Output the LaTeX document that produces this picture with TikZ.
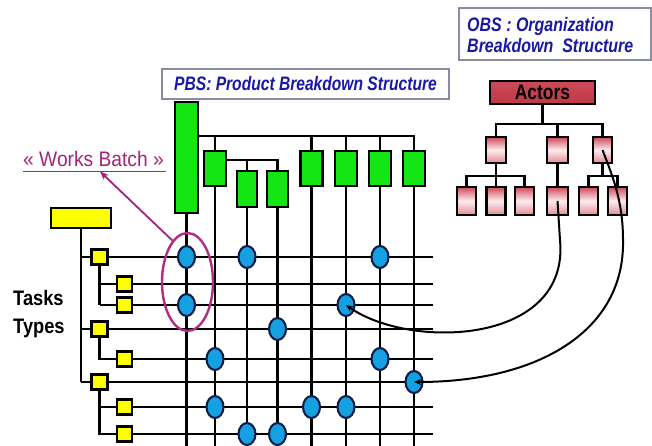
\documentclass[tikz,border=0pt]{standalone}
\usepackage{fontspec}
\setmainfont{Liberation Sans}
\usepackage{graphicx}
\usetikzlibrary{shapes.geometric,arrows.meta,calc}

\definecolor{gfill}{RGB}{20,230,20}
\definecolor{yfill}{RGB}{255,255,0}
\definecolor{bfill}{RGB}{20,160,225}
\definecolor{bline}{RGB}{15,30,70}
\definecolor{mag}{RGB}{165,35,120}
\definecolor{mage}{RGB}{178,45,130}
\definecolor{tblue}{RGB}{25,25,165}
\definecolor{gbord}{RGB}{140,140,160}
\definecolor{pktop}{RGB}{205,75,90}
\definecolor{pkmid}{RGB}{253,236,238}
\definecolor{pkbot}{RGB}{225,140,150}
\definecolor{actbot}{RGB}{190,55,70}

\newcommand{\hsq}[2]{\scalebox{#1}[1]{#2}}

\begin{document}
\begin{tikzpicture}[x=1pt,y=-1pt,
  gridl/.style={line width=2.5pt},
  gbox/.style={draw, line width=2.3pt, fill=gfill, inner sep=0pt, minimum width=22pt, minimum height=35pt},
  ybox/.style={draw, line width=2.1pt, fill=yfill, inner sep=0pt, minimum width=15pt, minimum height=15pt},
  dot/.style={ellipse, draw=bline, line width=2.1pt, fill=bfill, inner sep=0pt, minimum width=17pt, minimum height=22pt},
  pbox/.style={draw, line width=2.1pt, top color=pktop, bottom color=pkbot, middle color=pkmid, inner sep=0pt, minimum width=19pt, minimum height=28pt},
  titlebox/.style={draw=gbord, line width=1.3pt, fill=white, inner sep=0pt},
  titletext/.style={inner sep=0pt, anchor=base west, text=tblue, font=\fontsize{19.5}{21}\selectfont\bfseries\itshape},
  link/.style={line width=2pt, -{Stealth[length=7pt,width=6pt]}},
]
\useasboundingbox (0,0) rectangle (652,446);

% helper coordinates
\coordinate (rx) at (433,0);
\coordinate (by) at (0,446);
\coordinate (h1) at (0,136);
\coordinate (h2) at (0,160);
\coordinate (h3) at (0,124);
\coordinate (h4) at (0,176);

% PBS title
\node[titlebox, minimum width=287pt, minimum height=30pt, text=tblue,
      font=\fontsize{19.5}{21}\selectfont\bfseries\itshape] (pbs) at (305.5,84)
      {\hsq{0.80}{PBS: Product Breakdown Structure}};

% OBS title
\node[titlebox, minimum width=192pt, minimum height=52pt] (obs) at (555,34) {};
\node[titletext] (obs1) at (467,32) {\hsq{0.82}{OBS : Organization}};
\node[titletext] (obs2) at (467,53) {\hsq{0.82}{Breakdown\ \ Structure}};

% green product boxes
\node[gbox, minimum width=23pt, minimum height=111pt] (gB) at (186.5,157.5) {};
\node[gbox] (g1) at (215,168.5) {};
\node[gbox, minimum width=20pt, minimum height=36pt] (g2) at (247,189) {};
\node[gbox, minimum width=21pt, minimum height=36pt] (g3) at (277.5,189) {};
\node[gbox] (g4) at (311.5,168.5) {};
\node[gbox] (g5) at (346,168.5) {};
\node[gbox] (g6) at (380,168.5) {};
\node[gbox] (g7) at (414,168.5) {};

% PBS tree lines
\draw[gridl] (gB.east |- h1) -| (g7.north);
\foreach \n in {g1,g4,g5,g6} \draw[gridl] (\n.north) -- (\n.north |- h1);
\draw[gridl] (g1.east |- h2) -| (g3.north);
\draw[gridl] (g2.north) -- (g2.north |- h2);
\foreach \n in {gB,g1,g2,g3,g4,g5,g6,g7} \draw[gridl] (\n.south) -- (\n.south |- by);

% yellow task boxes
\node[ybox, minimum width=60pt, minimum height=20pt] (yT) at (81,218) {};
\node[ybox, minimum width=16pt] (y1) at (99.5,257) {};
\node[ybox] (y2) at (124.5,284) {};
\node[ybox] (y3) at (124.5,305) {};
\node[ybox, minimum width=16pt] (y4) at (99.5,329) {};
\node[ybox] (y5) at (124.5,359) {};
\node[ybox, minimum width=16pt] (y6) at (99.5,382) {};
\node[ybox] (y7) at (124.5,407) {};
\node[ybox] (y8) at (124.5,434) {};

% task tree lines
\draw[gridl] (yT.south) -- (yT.south |- y6);
\foreach \n in {y1,y4,y6} \draw[gridl] (yT.south |- \n) -- (\n.west);
\draw[gridl] (y1.south) -- (y1.south |- y3);
\draw[gridl] (y1.south |- y2) -- (y2.west);
\draw[gridl] (y1.south |- y3) -- (y3.west);
\draw[gridl] (y4.south) -- (y4.south |- y5) -- (y5.west);
\draw[gridl] (y6.south) -- (y6.south |- y8) -- (y8.west);
\draw[gridl] (y6.south |- y7) -- (y7.west);
\foreach \n in {y1,y2,y3,y4,y5,y6,y7,y8} \draw[gridl] (\n.east) -- (\n.east -| rx);

% work package dots
\node[dot] (d1) at (gB.south |- y1) {};
\node[dot] (d2) at (g2.south |- y1) {};
\node[dot] (d3) at (g6.south |- y1) {};
\node[dot] (d4) at (gB.south |- y3) {};
\node[dot] (d5) at (g5.south |- y3) {};
\node[dot] (d6) at (g3.south |- y4) {};
\node[dot] (d7) at (g1.south |- y5) {};
\node[dot] (d8) at (g6.south |- y5) {};
\node[dot] (d9) at (g7.south |- y6) {};
\node[dot] (d10) at (g1.south |- y7) {};
\node[dot] (d11) at (g4.south |- y7) {};
\node[dot] (d12) at (g5.south |- y7) {};
\node[dot] (d13) at (g2.south |- y8) {};
\node[dot] (d14) at (g3.south |- y8) {};

% works batch
\node[ellipse, draw=mage, line width=2.4pt, minimum width=51pt, minimum height=98pt, inner sep=0pt] (wb) at (187.5,282) {};
\node[inner sep=0pt, anchor=base west, text=mag, font=\fontsize{21}{24}\selectfont] (wbt) at (23,167) {\hsq{0.915}{« Works Batch »}};
\draw[mag, line width=1.8pt] ($(wbt.base west)+(0,4.5)$) -- ($(wbt.base east)+(2,4.5)$);
\coordinate (ul) at ($(wbt.base west)+(77,4.5)$);
\draw[mag, line width=1.8pt, -{Stealth[length=9pt,width=7pt]}] (wb.110) -- (ul);

% tasks types label
\node[inner sep=0pt, anchor=base west, font=\fontsize{21}{24}\selectfont\bfseries] (tk) at (13,305) {\hsq{0.87}{Tasks}};
\node[inner sep=0pt, anchor=base west, font=\fontsize{21}{24}\selectfont\bfseries] (ty) at (13,333) {\hsq{0.87}{Types}};

% OBS tree
\node[pbox, minimum width=105pt, minimum height=23pt, top color=pktop, middle color=white, bottom color=actbot,
      font=\fontsize{21}{24}\selectfont\bfseries] (act) at (542.5,92.5) {\hsq{0.83}{Actors}};
\node[pbox, minimum width=20pt, minimum height=26pt] (o1) at (496,150) {};
\node[pbox, minimum width=21pt, minimum height=26pt] (o2) at (557.5,150) {};
\node[pbox, minimum width=19pt, minimum height=26pt] (o3) at (602.5,150) {};
\node[pbox] (o11) at (466.5,201) {};
\node[pbox] (o12) at (496,201) {};
\node[pbox] (o13) at (524.5,201) {};
\node[pbox, minimum width=21pt] (o21) at (557.5,201) {};
\node[pbox] (o31) at (588.5,201) {};
\node[pbox] (o32) at (617.5,201) {};

\draw[gridl] (act.south) -- (act.south |- h3);
\draw[gridl] (o1.north) |- (o3.north |- h3) -- (o3.north);
\draw[gridl] (o2.north) -- (o2.north |- h3);
\draw[gridl] (o2.south) -- (o21.north);
\draw[gridl] (o1.south) -- (o12.north);
\draw[gridl] (o11.north) |- (o13.north |- h4) -- (o13.north);
\draw[gridl] (o3.south) -- (o3.south |- h4);
\draw[gridl] (o31.north) |- (o32.north |- h4) -- (o32.north);

% actor links
\draw[link] (o21.center) -- (560,240) .. controls (570,345) and (410,350) .. (d5.center);
\draw[link] (o3.center) .. controls (612,175) and (623,200) .. (623,240) .. controls (625,330) and (540,382) .. (d9.center);
\end{tikzpicture}
\end{document}
